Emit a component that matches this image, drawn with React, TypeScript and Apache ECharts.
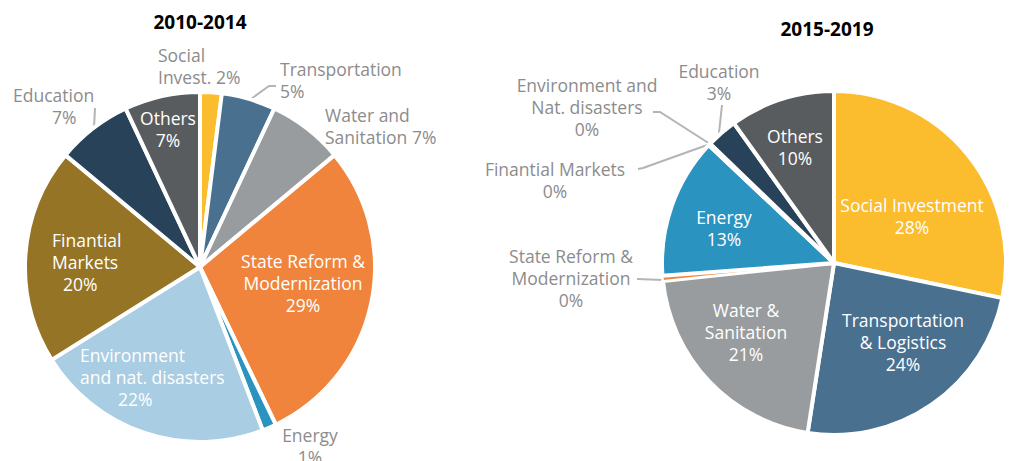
import React, { useEffect, useRef } from "react";
import * as echarts from "echarts";

// ---------- data ----------
const categories = [
  "Social Investment",
  "Transportation & Logistics",
  "Water & Sanitation",
  "State Reform & Modernization",
  "Energy",
  "Environment and Nat. disasters",
  "Finantial Markets",
  "Education",
  "Others",
];
const colors = [
  "#FBBC2D",
  "#4A7090",
  "#999C9E",
  "#F0843C",
  "#2A93C0",
  "#A9CDE3",
  "#957426",
  "#284359",
  "#595C5E",
];

const leftTitle = "2010-2014";
const leftValues = [2, 5, 7, 29, 1.3, 22, 20, 7, 7];
const leftLabelText = [
  "Social\nInvest. #",
  "Transportation\n#",
  "Water and\nSanitation #",
  "State Reform &\nModernization\n#",
  "Energy\n#",
  "Environment\nand nat. disasters\n#",
  "Finantial\nMarkets\n#",
  "Education\n#",
  "Others\n#",
];

const rightTitle = "2015-2019";
const rightValues = [28.3, 24.2, 20.9, 0.49, 13.2, 0.1, 0.1, 2.9, 9.9];
const rightLabelText = [
  "Social Investment\n#",
  "Transportation\n& Logistics\n#",
  "Water &\nSanitation\n#",
  "State Reform &\nModernization\n#",
  "Energy\n#",
  "Environment and\nNat. disasters\n#",
  "Finantial Markets\n#",
  "Education\n#",
  "Others\n#",
];

// ---------- label placement (layout only) ----------
type Place = {
  x: number;
  y: number;
  align: "left" | "center" | "right";
  inside: boolean;
  indent?: number;
  line?: number[][];
  border?: number;
};
const leftPlace: Place[] = [
  { x: 158, y: 66, align: "left", inside: false },
  { x: 280, y: 80, align: "left", inside: false, line: [[251, 99], [269, 86], [276, 86]] },
  { x: 325, y: 126, align: "left", inside: false },
  { x: 303, y: 283, align: "center", inside: true },
  { x: 310, y: 446, align: "center", inside: false },
  { x: 80, y: 377, align: "left", inside: true, indent: 38 },
  { x: 52, y: 262, align: "left", inside: true, indent: 11 },
  { x: 13, y: 106, align: "left", inside: false, indent: 39, line: [[95, 108], [94, 128]] },
  { x: 168, y: 129, align: "center", inside: true },
];
const rightPlace: Place[] = [
  { x: 912, y: 216, align: "center", inside: true },
  { x: 903, y: 342, align: "center", inside: true },
  { x: 746, y: 332, align: "center", inside: true },
  { x: 571, y: 278, align: "center", inside: false, line: [[637, 279], [663, 280]], border: 2 },
  { x: 724, y: 228, align: "center", inside: true },
  { x: 587, y: 107, align: "center", inside: false, line: [[653, 112], [660, 112], [710, 144]] },
  { x: 555, y: 180, align: "center", inside: false, line: [[638, 169], [643, 168], [710, 144]] },
  { x: 719, y: 82, align: "center", inside: false, line: [[722, 105], [719, 133]] },
  { x: 795, y: 147, align: "center", inside: true },
];

const FONT = "'Open Sans', sans-serif";
const FS = 17.5;
const LH = 22;
const OUT_COLOR = "#8C8C8C";
const LINE_COLOR = "#B4B4B4";

function buildSeries(
  values: number[],
  texts: string[],
  place: Place[],
  center: [number, number],
  radius: number
) {
  const data = values.map((v, i) => {
    const p = place[i];
    const col = p.inside ? "#FFFFFF" : OUT_COLOR;
    const pct = Math.round(v) + "%";
    const lines = texts[i].replace("#", pct).split("\n");
    const fmt = lines
      .map((l, k) => (k === lines.length - 1 && p.indent ? `{p|${l}}` : `{t|${l}}`))
      .join("\n");
    const itemStyle: any = { color: colors[i] };
    if (p.border !== undefined) itemStyle.borderWidth = p.border;
    return {
      name: categories[i],
      value: v,
      itemStyle,
      label: {
        show: true,
        position: p.inside ? "inside" : "outside",
        formatter: fmt,
        align: p.align,
        rich: {
          t: { color: col, fontFamily: FONT, fontSize: FS, lineHeight: LH },
          p: {
            color: col,
            fontFamily: FONT,
            fontSize: FS,
            lineHeight: LH,
            padding: [0, 0, 0, p.indent || 0],
          },
        },
      },
      labelLine: {
        show: !!p.line,
        lineStyle: { color: LINE_COLOR, width: 2 },
      },
    };
  });
  return {
    type: "pie",
    center,
    radius,
    startAngle: 90,
    clockwise: true,
    avoidLabelOverlap: false,
    itemStyle: { borderColor: "#FFFFFF", borderWidth: 4 },
    emphasis: { disabled: true },
    data,
    labelLayout: (params: any) => {
      const p = place[params.dataIndex];
      const o: any = { x: p.x, y: p.y, align: p.align, verticalAlign: "middle" };
      if (p.line) o.labelLinePoints = p.line;
      return o;
    },
  };
}

export default function App() {
  const ref = useRef<HTMLDivElement>(null);
  useEffect(() => {
    if (!ref.current) return;
    const chart = echarts.init(ref.current, null, { renderer: "svg" });
    chart.setOption({
      animation: false,
      backgroundColor: "#FFFFFF",
      graphic: [
        {
          type: "text",
          x: 200,
          y: 22,
          style: {
            text: leftTitle,
            align: "center",
            verticalAlign: "middle",
            fill: "#000000",
            font: `bold 19px ${FONT}`,
          },
        },
        {
          type: "text",
          x: 827,
          y: 29,
          style: {
            text: rightTitle,
            align: "center",
            verticalAlign: "middle",
            fill: "#000000",
            font: `bold 19px ${FONT}`,
          },
        },
      ],
      series: [
        buildSeries(leftValues, leftLabelText, leftPlace, [200, 267], 175),
        buildSeries(rightValues, rightLabelText, rightPlace, [834, 263], 172),
      ],
    });
    return () => chart.dispose();
  }, []);
  return (
    <div
      ref={ref}
      style={{ position: "fixed", left: 0, top: 0, width: 1009, height: 461 }}
    />
  );
}
